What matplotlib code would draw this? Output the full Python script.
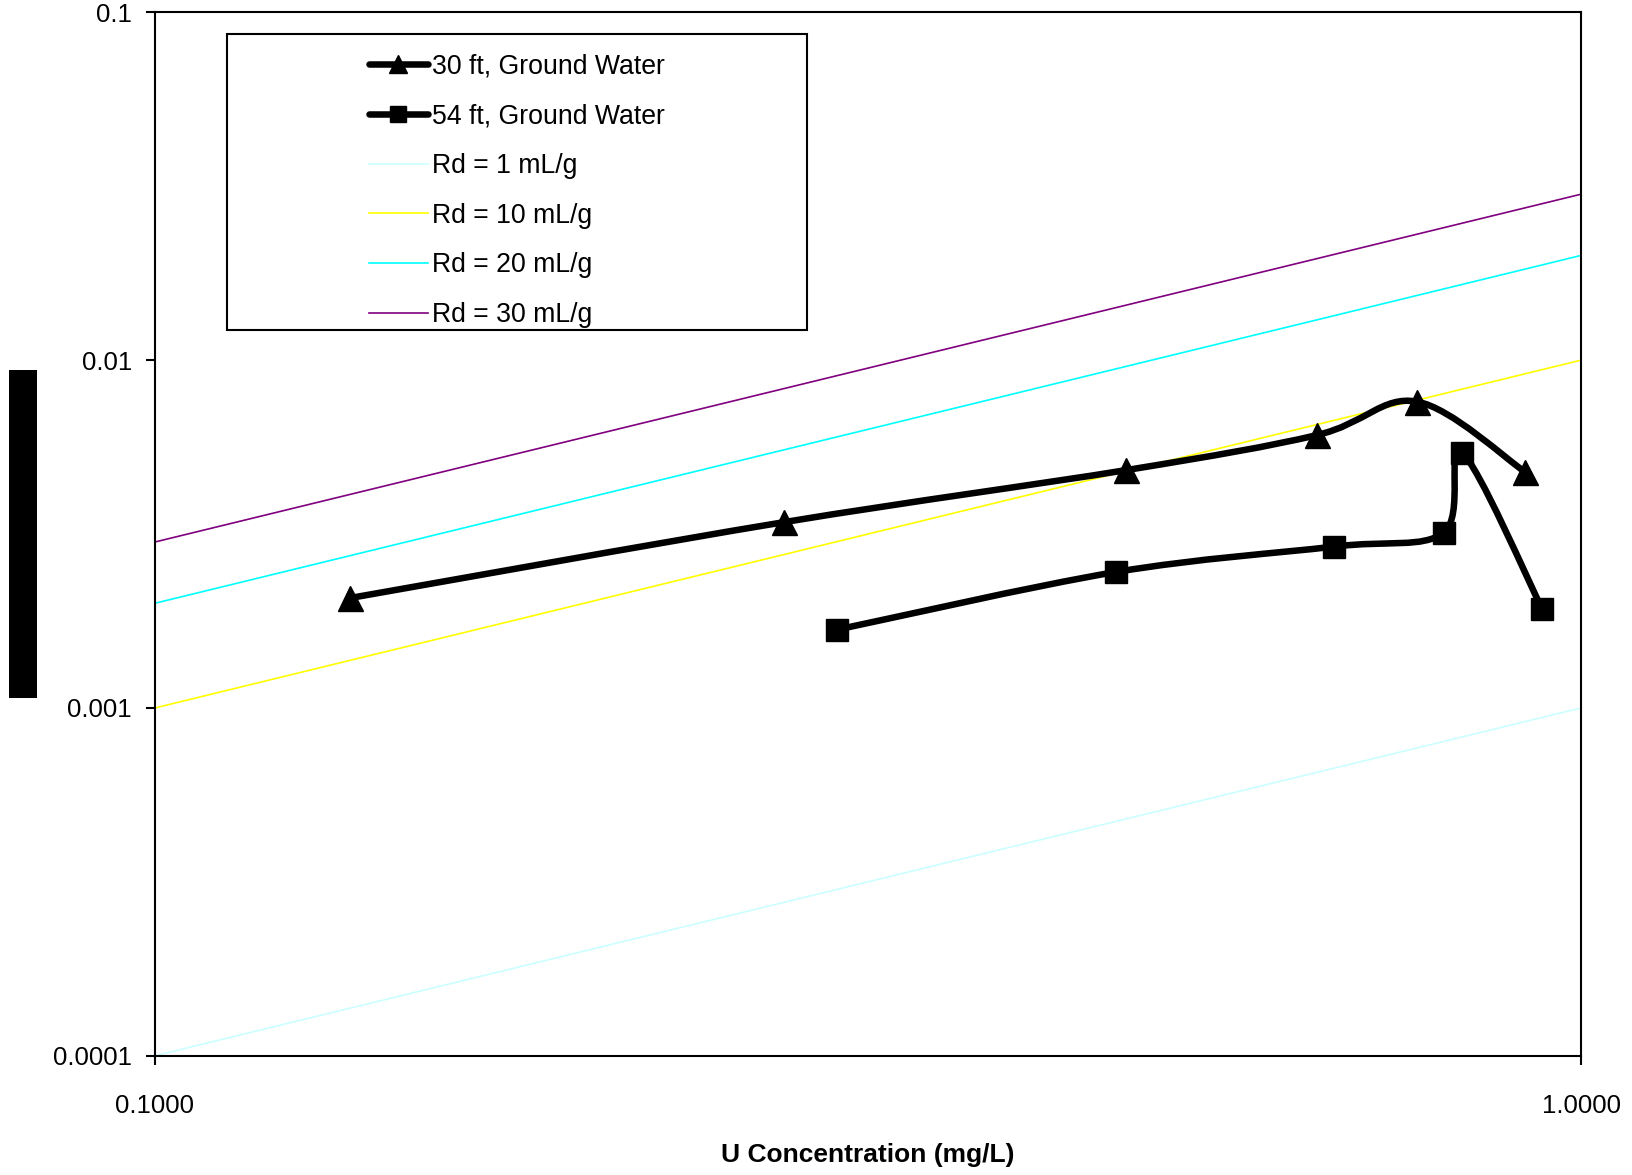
import numpy as np
import matplotlib
matplotlib.use('Agg')
import matplotlib.pyplot as plt
from matplotlib.path import Path
from matplotlib.patches import PathPatch, Rectangle
from matplotlib.lines import Line2D
from matplotlib.ticker import FixedLocator, FixedFormatter, NullLocator

plt.rcParams['font.family'] = ['Liberation Sans', 'DejaVu Sans']

# Series data (U concentration mg/L vs. sorbed amount)
x_30ft = [0.137, 0.276, 0.480, 0.653, 0.767, 0.913]
y_30ft = [0.00207, 0.00342, 0.00483, 0.00609, 0.00760, 0.00478]
x_54ft = [0.301, 0.472, 0.671, 0.801, 0.825, 0.939]
y_54ft = [0.00168, 0.00246, 0.00291, 0.00319, 0.00542, 0.00193]

# Reference Rd lines
rd_x = [0.1, 1.0]
rd_y = [[0.0001, 0.001], [0.001, 0.01], [0.002, 0.02], [0.003, 0.03]]
rd_labels = ['Rd = 1 mL/g', 'Rd = 10 mL/g', 'Rd = 20 mL/g', 'Rd = 30 mL/g']
rd_colors = ['#ccffff', '#ffff00', '#00ffff', '#800080']

x_ticks = [0.1, 1.0]
x_tick_labels = ['0.1000', '1.0000']
y_ticks = [0.0001, 0.001, 0.01, 0.1]
y_tick_labels = ['0.0001', '0.001', '0.01', '0.1']

FS = 18.5
LEG_FS = 19.2


def smooth_path(xs, ys):
    # Bezier curve through the points (like a smoothed spreadsheet line)
    p = np.column_stack([np.log10(xs), np.log10(ys)])
    n = len(p)
    verts = [p[0]]
    codes = [Path.MOVETO]
    for i in range(n - 1):
        p0 = p[max(i - 1, 0)]
        p1 = p[i]
        p2 = p[i + 1]
        p3 = p[min(i + 2, n - 1)]
        verts += [p1 + (p2 - p0) / 6, p2 - (p3 - p1) / 6, p2]
        codes += [Path.CURVE4] * 3
    return Path(10 ** np.array(verts), codes)


fig = plt.figure(figsize=(16.33, 11.75), dpi=100)
ax = fig.add_axes([0.0949, 0.1015, 0.8733, 0.888])
ax.set_xscale('log')
ax.set_yscale('log')

for yy, c in zip(rd_y, rd_colors):
    ax.plot(rd_x, yy, color=c, lw=1.2, zorder=2)

for xs, ys, m, ms in [(x_30ft, y_30ft, '^', 18), (x_54ft, y_54ft, 's', 16)]:
    ax.add_patch(PathPatch(smooth_path(xs, ys), facecolor='none', edgecolor='black',
                           lw=4.7, joinstyle='round', capstyle='round', zorder=3))
    ax.plot(xs, ys, linestyle='none', marker=m, ms=ms, color='black', zorder=4)

ax.set_xlim(0.1, 1.0)
ax.set_ylim(0.0001, 0.1)
ax.xaxis.set_major_locator(FixedLocator(x_ticks))
ax.xaxis.set_major_formatter(FixedFormatter(x_tick_labels))
ax.xaxis.set_minor_locator(NullLocator())
ax.yaxis.set_major_locator(FixedLocator(y_ticks))
ax.yaxis.set_major_formatter(FixedFormatter(y_tick_labels))
ax.yaxis.set_minor_locator(NullLocator())
ax.tick_params(direction='out', length=6.5, width=1.5, labelsize=FS, top=False, right=False)
ax.tick_params(axis='x', pad=21)
ax.tick_params(axis='y', pad=10)
for s in ax.spines.values():
    s.set_linewidth(1.5)

ax.set_xlabel('U Concentration (mg/L)', fontsize=19, fontweight='bold', va='center')
ax.xaxis.set_label_coords(0.5, -0.095)

# legend
handles = [Line2D([], [], color='black', lw=4.7, marker='^', ms=12.5, solid_capstyle='round'),
           Line2D([], [], color='black', lw=4.7, marker='s', ms=11, solid_capstyle='round')]
handles += [Line2D([], [], color=c, lw=1.2) for c in rd_colors]
labels = ['30 ft, Ground Water', '54 ft, Ground Water'] + rd_labels
ax.legend(handles, labels, loc='center', bbox_to_anchor=(0.2538, 0.829), frameon=False,
          fontsize=LEG_FS, handlelength=2.2, handletextpad=0.15, labelspacing=0.89,
          borderpad=0, numpoints=1)
ax.add_patch(Rectangle((0.0505, 0.6955), 0.4065, 0.2835, transform=ax.transAxes,
                       fill=False, edgecolor='black', lw=1.5, zorder=5))

# blacked-out y axis title
fig.patches.append(Rectangle((0.0055, 0.4062), 0.017, 0.2789, transform=fig.transFigure,
                             facecolor='black', edgecolor='none'))

fig.savefig('out.png', dpi=100)
